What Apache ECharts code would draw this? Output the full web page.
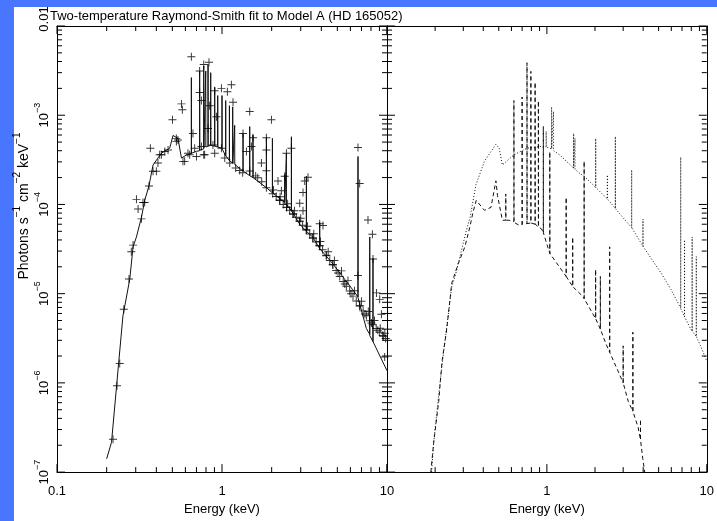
<!DOCTYPE html>
<html>
<head>
<meta charset="utf-8">
<script src="https://cdn.jsdelivr.net/npm/echarts@6/dist/echarts.min.js"></script>
<style>
  html, body { margin: 0; padding: 0; background: #4876ff; overflow: hidden; }
  #sheet { position: absolute; left: 14px; top: 7px; width: 703px; height: 514px; background: #ffffff; }
  #chart { position: absolute; left: 0; top: 0; width: 717px; height: 521px; }
</style>
</head>
<body>
<div id="sheet"></div>
<div id="chart"></div>
<script>
// Energy (keV) / flux (photons s^-1 cm^-2 keV^-1) pairs.

// Total two-temperature model (left panel, solid line)
const modelTotal = [
  [0.200,1.41e-7],[0.214,2.16e-7],[0.230,9.5e-7],[0.251,5.64e-6],[0.276,1.45e-5],[0.289,3.35e-5],
  [0.303,4.32e-5],[0.325,7.18e-5],[0.340,1.11e-4],[0.361,1.62e-4],[0.382,2.77e-4],[0.429,3.75e-4],
  [0.482,4.27e-4],[0.505,5.93e-4],[0.541,5.5e-4],[0.568,3.31e-4],[0.607,3.57e-4],
  [0.652,3.7e-4],[0.652,2.64e-3],[0.653,3.75e-4],
  [0.700,3.94e-4],
  [0.732,4.0e-4],[0.732,3.13e-3],[0.733,4.05e-4],
  [0.775,4.2e-4],[0.775,3.55e-3],[0.776,4.3e-4],
  [0.797,4.4e-4],[0.797,3.13e-3],[0.798,4.4e-4],
  [0.823,4.5e-4],[0.823,3.71e-3],[0.824,4.5e-4],
  [0.854,4.6e-4],[0.854,3.0e-3],[0.855,4.6e-4],
  [0.903,4.5e-4],[0.903,2.05e-3],[0.904,4.5e-4],
  [0.942,4.4e-4],[0.942,1.66e-3],[0.943,4.4e-4],
  [1.000,4.27e-4],[1.000,1.66e-3],[1.001,4.2e-4],
  [1.053,3.5e-4],[1.053,1.46e-3],[1.054,3.5e-4],
  [1.109,3.1e-4],[1.109,1.28e-3],[1.110,3.1e-4],
  [1.161,2.9e-4],[1.161,1.24e-3],[1.162,2.9e-4],
  [1.194,2.8e-4],[1.194,7.7e-4],[1.195,2.8e-4],
  [1.341,2.37e-4],[1.341,6.25e-4],[1.342,2.37e-4],
  [1.472,2.1e-4],[1.472,7.46e-4],[1.473,2.1e-4],
  [1.541,2.0e-4],[1.541,5.98e-4],[1.542,2.0e-4],
  [1.858,1.54e-4],[1.858,5.6e-4],[1.859,1.54e-4],
  [2.021,1.35e-4],[2.021,5.5e-4],[2.022,1.35e-4],
  [2.399,1.05e-4],[2.399,2.16e-4],[2.400,1.05e-4],
  [2.457,1.0e-4],[2.457,3.75e-4],[2.458,1.0e-4],
  [2.634,8.5e-5],[2.634,5.74e-4],[2.635,8.5e-5],
  [2.958,6.0e-5],
  [3.247,5.0e-5],[3.247,2.07e-4],[3.248,5.0e-5],
  [3.55,4.3e-5],
  [3.909,3.2e-5],[3.909,6.32e-5],[3.910,3.2e-5],
  [4.69,2.17e-5],
  [6.17,1.12e-5],
  [6.671,9.2e-6],[6.671,3.45e-4],[6.672,9.0e-6],
  [7.50,4.06e-6],
  [7.86,3.5e-6],[7.86,4.32e-5],[7.861,3.4e-6],
  [8.225,2.9e-6],[8.225,2.49e-5],[8.226,2.9e-6],
  [10.0,1.37e-6]
];

// Observed spectrum (left panel, crosses)
const observed = [
  [0.2185,2.34e-7],[0.231,9.3e-7],[0.240,1.65e-6],[0.254,6.69e-6],[0.273,1.46e-5],[0.282,2.95e-5],
  [0.289,3.5e-5],[0.303,1.14e-4],[0.310,8.87e-5],[0.325,6.89e-5],[0.332,1.05e-4],[0.340,1.05e-4],
  [0.361,1.61e-4],[0.368,4.27e-4],[0.382,2.36e-4],[0.400,2.36e-4],[0.409,2.91e-4],[0.419,3.6e-4],
  [0.429,3.6e-4],[0.450,3.92e-4],[0.471,4.08e-4],[0.501,8.92e-4],[0.529,5.5e-4],[0.529,5.06e-4],
  [0.541,5.27e-4],[0.568,1.34e-3],[0.575,1.15e-3],[0.580,3.04e-4],[0.594,3.04e-4],[0.622,3.75e-4],
  [0.637,3.6e-4],[0.652,4.51e-3],[0.667,6.25e-4],[0.683,4.27e-4],[0.700,3.45e-4],[0.732,3.13e-3],
  [0.732,1.80e-3],[0.750,1.46e-3],[0.750,4.45e-4],[0.775,3.71e-3],[0.775,3.6e-4],[0.785,3.6e-4],
  [0.823,7.1e-4],[0.834,3.93e-3],[0.842,1.28e-3],[0.881,4.64e-4],[0.903,1.88e-3],[0.903,3.75e-4],
  [0.925,9.6e-4],[0.992,2.0e-3],[0.992,4.27e-4],[1.039,3.31e-4],[1.078,1.83e-3],[1.114,2.91e-4],
  [1.140,2.19e-3],[1.166,1.40e-3],[1.21,2.56e-4],[1.28,2.4e-4],[1.335,2.26e-4],[1.341,6.25e-4],
  [1.406,3.92e-4],[1.472,1.10e-3],[1.472,2.37e-4],[1.508,4.45e-4],[1.541,5.6e-4],[1.60,2.09e-4],
  [1.646,1.99e-4],[1.733,2.91e-4],[1.74,1.80e-4],[1.858,5.6e-4],[1.858,4.08e-4],[1.858,2.39e-4],
  [1.858,1.54e-4],[1.993,8.92e-4],[2.03,1.32e-4],[2.13,1.23e-4],[2.185,1.83e-4],[2.238,1.11e-4],
  [2.291,1.42e-4],[2.35,1.0e-4],[2.399,2.07e-4],[2.457,3.75e-4],[2.467,9.27e-5],[2.57,8.59e-5],
  [2.634,4.27e-4],[2.692,7.8e-5],[2.82,7.19e-5],[2.958,1.03e-4],[2.958,6.49e-5],[3.08,5.86e-5],
  [3.097,1.36e-4],[3.097,8.5e-5],[3.171,1.83e-4],[3.247,5.16e-5],[3.320,2.02e-4],[3.40,4.66e-5],
  [3.55,4.21e-5],[3.72,3.8e-5],[3.909,6.06e-5],[3.909,3.44e-5],[4.07,3.1e-5],[4.094,5.82e-5],
  [4.29,2.66e-5],[4.50,2.35e-5],[4.69,2.12e-5],[4.92,1.82e-5],[5.17,1.56e-5],[5.43,1.37e-5],
  [5.67,1.21e-5],[5.94,1.07e-5],[6.22,9.38e-6],[6.51,8.26e-6],[6.671,4.34e-4],[6.671,1.60e-5],
  [6.83,1.72e-4],[6.83,7.28e-6],[7.17,6.41e-6],[7.50,5.64e-6],[7.67,6.71e-5],[7.86,4.97e-6],
  [8.155,4.63e-5],[8.19,4.49e-6],[8.225,2.45e-5],[8.60,4.06e-6],[8.63,1.02e-5],[9.03,8.63e-6],
  [9.03,3.69e-6],[9.25,5.89e-6],[9.42,3.39e-6],[9.68,1.95e-6],[9.82,3.14e-6],
  // dense high-energy band, upper edge
  [2.05,1.45e-4],[2.25,1.22e-4],[2.50,1.02e-4],[2.75,8.5e-5],[3.00,7.0e-5],[3.30,5.7e-5],
  [3.60,4.7e-5],[3.95,3.85e-5],[4.40,2.95e-5],[4.80,2.35e-5],[5.30,1.8e-5],[5.80,1.4e-5],
  [6.35,1.08e-5],[7.00,8.2e-6],[7.70,6.3e-6],[8.40,5.0e-6],[9.10,4.1e-6],[9.70,3.6e-6],
  // dense high-energy band, centre
  [2.24,1.12e-4],[2.46,9.3e-5],[2.70,7.8e-5],[2.95,6.5e-5],[3.24,5.2e-5],[3.56,4.2e-5],
  [3.90,3.45e-5],[4.28,2.7e-5],[4.70,2.1e-5],[5.05,1.7e-5],[5.55,1.28e-5],[6.05,1.0e-5],
  [6.84,7.3e-6],[7.35,5.9e-6],[8.05,4.7e-6],[8.80,3.9e-6],[9.50,3.3e-6]
];

// Hot component (right panel, dotted line)
const hotComponent = [
  [0.190,1.0e-7],[0.196,2.17e-7],[0.2106,7.37e-7],[0.2259,2.2e-6],[0.2425,6.1e-6],[0.2541,1.21e-5],
  [0.2666,1.56e-5],[0.286,2.6e-5],[0.314,5.16e-5],[0.331,7.18e-5],[0.360,1.66e-4],[0.407,3.06e-4],
  [0.480,4.72e-4],[0.503,4.27e-4],[0.527,2.77e-4],[0.622,3.6e-4],[0.751,4.27e-4],[0.950,4.49e-4],
  [0.990,4.4e-4],[0.990,6.6e-4],[0.991,4.4e-4],
  [1.070,4.2e-4],[1.070,1.24e-3],[1.071,4.2e-4],
  [1.100,4.0e-4],[1.100,1.1e-3],[1.101,4.0e-4],
  [1.202,3.6e-4],
  [1.470,2.55e-4],[1.470,6.25e-4],[1.471,2.55e-4],
  [1.500,2.45e-4],[1.500,5.5e-4],[1.501,2.45e-4],
  [1.752,1.99e-4],
  [2.020,1.55e-4],[2.020,5.5e-4],[2.021,1.55e-4],
  [2.115,1.43e-4],
  [2.390,1.15e-4],[2.390,2.14e-4],[2.391,1.15e-4],
  [2.556,1.0e-4],
  [2.680,9.0e-5],[2.680,5.78e-4],[2.681,9.0e-5],
  [3.23,6.05e-5],
  [3.390,5.5e-5],[3.390,2.44e-4],[3.391,5.5e-5],
  [3.990,3.4e-5],[3.990,6.83e-5],[3.991,3.4e-5],
  [4.28,2.82e-5],[5.18,1.70e-5],[5.96,1.12e-5],
  [6.870,6.9e-6],[6.870,3.39e-4],[6.871,6.8e-6],
  [7.260,5.5e-6],[7.260,4.0e-5],[7.261,5.5e-6],
  [7.91,4.06e-6],
  [8.100,3.8e-6],[8.100,4.3e-5],[8.101,3.8e-6],
  [8.600,3.3e-6],[8.600,2.6e-5],[8.601,3.3e-6],
  [9.12,2.63e-6],[10.0,1.75e-6]
];

// Cool component (right panel, dashed line)
const coolComponent = [
  [0.188,1.0e-7],[0.196,2.17e-7],[0.2106,6.17e-7],[0.2206,1.71e-6],[0.2367,4.06e-6],[0.254,1.31e-5],
  [0.279,2.17e-5],[0.307,3.35e-5],[0.3296,5.57e-5],[0.345,8.17e-5],[0.3616,1.11e-4],[0.407,8.59e-5],
  [0.447,9.27e-5],[0.480,1.84e-4],[0.491,1.26e-4],[0.527,6.65e-5],
  [0.553,6.65e-5],[0.553,1.31e-4],[0.554,6.65e-5],
  [0.580,6.65e-5],
  [0.622,6.4e-5],[0.622,1.46e-3],[0.623,6.3e-5],
  [0.668,5.86e-5],
  [0.700,6.0e-5],[0.700,1.6e-3],[0.701,6.0e-5],
  [0.751,6.1e-5],[0.751,3.87e-3],[0.752,6.1e-5],
  [0.794,6.2e-5],[0.794,3.1e-3],[0.795,6.2e-5],
  [0.805,6.32e-5],
  [0.844,6.0e-5],[0.844,2.34e-3],[0.845,6.0e-5],
  [0.885,5.6e-5],[0.885,1.45e-3],[0.886,5.6e-5],
  [0.927,5.3e-5],
  [0.950,4.8e-5],[0.950,7.46e-4],[0.951,4.8e-5],
  [1.043,2.82e-5],[1.043,3.9e-4],[1.044,2.82e-5],
  [1.320,1.56e-5],[1.320,1.2e-4],[1.321,1.56e-5],
  [1.450,1.2e-5],[1.450,4.3e-5],[1.451,1.2e-5],
  [1.670,9.38e-6],
  [1.710,8.8e-6],[1.710,3.06e-4],[1.711,8.8e-6],
  [2.018,5.24e-6],[2.018,1.87e-5],[2.019,5.24e-6],
  [2.160,4.0e-6],[2.160,1.56e-5],[2.161,4.0e-6],
  [2.323,2.84e-6],
  [2.470,2.2e-6],[2.470,3.35e-5],[2.471,2.2e-6],
  [2.805,1.32e-6],
  [3.000,1.0e-6],[3.000,2.6e-6],[3.001,1.0e-6],
  [3.23,6.17e-7],
  [3.450,4.8e-7],[3.450,3.7e-6],[3.451,4.8e-7],
  [3.72,3.18e-7],
  [3.850,2.3e-7],[3.850,3.9e-7],[3.851,2.3e-7],
  [3.98,1.41e-7],[4.09,1.0e-7]
];

// Axis ranges and tick labels
const energyRange = [0.1, 10];
const fluxRange = [1e-7, 1e-2];
const energyTickLabels = ['0.1', '1', '10'];
const fluxTickLabels = ['10|−7', '10|−6', '10|−5', '10|−4', '10|−3', '0.01'];
const yAxisTitle = ['Photons s', '−1', ' cm', '−2', ' keV', '−1'];

const FONT = 'Liberation Sans';
const INK = '#000000';

const chart = echarts.init(document.getElementById('chart'), null, { renderer: 'canvas' });

const gridBoxes = [
  { left: 57, top: 26, width: 330, height: 452 },
  { left: 387, top: 26, width: 326, height: 452 }
];

const richText = {
  t: { fontSize: 13, fontFamily: FONT, color: INK, lineHeight: 18, verticalAlign: 'bottom' },
  s: { fontSize: 9, fontFamily: FONT, color: INK, lineHeight: 10, verticalAlign: 'top' },
  // the topmost decade label sits a little above its tick
  up: { fontSize: 13, fontFamily: FONT, color: INK, lineHeight: 18, verticalAlign: 'bottom', padding: [0, 0, 0, 14] }
};
const richTitle = {
  t: { fontSize: 14, fontFamily: FONT, color: INK, lineHeight: 19, verticalAlign: 'bottom' },
  s: { fontSize: 10, fontFamily: FONT, color: INK, lineHeight: 10, verticalAlign: 'top' }
};

function decadeIndex(v, lo) {
  return Math.round(Math.log10(v / lo));
}

// Decade and sub-decade tick values for a log range
function logTicks(range) {
  const out = [];
  const d0 = Math.round(Math.log10(range[0]));
  const d1 = Math.round(Math.log10(range[1]));
  for (let d = d0; d <= d1; d++) {
    for (let m = 1; m <= 9; m++) {
      const v = m * Math.pow(10, d);
      if (v > range[1] * 1.0001) break;
      out.push({ v, major: m === 1 });
    }
  }
  return out;
}

const MAJOR_LEN = 8;
const MINOR_LEN = 5;

// Frame ticks on all four sides of a panel, pointing inward
function renderFrameTicks(params, api) {
  const bl = api.coord([energyRange[0], fluxRange[0]]);
  const tr = api.coord([energyRange[1], fluxRange[1]]);
  const children = [];
  const seg = (x1, y1, x2, y2) => children.push({
    type: 'line', shape: { x1, y1, x2, y2 },
    style: { stroke: INK, lineWidth: 1 }
  });
  logTicks(energyRange).forEach(t => {
    const x = api.coord([t.v, fluxRange[0]])[0];
    const len = t.major ? MAJOR_LEN : MINOR_LEN;
    seg(x, bl[1], x, bl[1] - len);
    seg(x, tr[1], x, tr[1] + len);
  });
  logTicks(fluxRange).forEach(t => {
    const y = api.coord([energyRange[0], t.v])[1];
    const len = t.major ? MAJOR_LEN : MINOR_LEN;
    seg(bl[0], y, bl[0] + len, y);
    seg(tr[0], y, tr[0] - len, y);
  });
  return { type: 'group', children };
}

function energyAxis(gridIndex, position, withLabels, showMin) {
  return {
    type: 'log', logBase: 10, gridIndex, position,
    min: energyRange[0], max: energyRange[1],
    name: withLabels ? 'Energy (keV)' : '',
    nameLocation: 'middle', nameGap: 30,
    nameTextStyle: { color: INK, fontFamily: FONT, fontSize: 13 },
    axisLine: { show: true, onZero: false, lineStyle: { color: INK, width: 1 } },
    axisTick: { show: false },
    minorTick: { show: false },
    splitLine: { show: false },
    axisLabel: {
      show: withLabels, showMinLabel: showMin, margin: 13,
      color: INK, fontFamily: FONT, fontSize: 13,
      formatter: v => energyTickLabels[decadeIndex(v, energyRange[0])]
    }
  };
}

function fluxAxis(gridIndex, position, withLabels) {
  return {
    type: 'log', logBase: 10, gridIndex, position,
    min: fluxRange[0], max: fluxRange[1],
    axisLine: { show: true, onZero: false, lineStyle: { color: INK, width: 1 } },
    axisTick: { show: false },
    minorTick: { show: false },
    splitLine: { show: false },
    axisLabel: {
      show: withLabels, rotate: 90, margin: 6,
      color: INK, fontFamily: FONT, fontSize: 13,
      formatter: v => {
        const parts = fluxTickLabels[decadeIndex(v, fluxRange[0])].split('|');
        return parts.length > 1 ? '{t|' + parts[0] + '}{s|' + parts[1] + '}' : '{up|' + parts[0] + '}';
      },
      rich: richText
    }
  };
}

const plusSymbol = 'path://M0,4.4H10V5.6H0ZM4.4,0H5.6V10H4.4Z';

const yTitleRich = yAxisTitle.map((s, i) => (i % 2 === 0 ? '{t|' : '{s|') + s + '}').join('');

chart.setOption({
  animation: false,
  backgroundColor: 'transparent',
  title: {
    text: 'Two-temperature Raymond-Smith fit to Model A (HD 165052)',
    left: 45, top: 5,
    textStyle: { color: INK, fontFamily: FONT, fontSize: 13, fontWeight: 'normal' }
  },
  graphic: [{
    type: 'text', x: 22, y: 206, rotation: Math.PI / 2,
    style: { text: yTitleRich, rich: richTitle, align: 'center', verticalAlign: 'middle' }
  }],
  grid: gridBoxes.map(g => Object.assign({ containLabel: false }, g)),
  xAxis: [
    energyAxis(0, 'bottom', true, true),
    energyAxis(0, 'top', false, true),
    energyAxis(1, 'bottom', true, false),
    energyAxis(1, 'top', false, true)
  ],
  yAxis: [
    fluxAxis(0, 'left', true),
    fluxAxis(0, 'right', false),
    fluxAxis(1, 'left', false),
    fluxAxis(1, 'right', false)
  ],
  series: [
    {
      name: 'Frame ticks A', type: 'custom', xAxisIndex: 0, yAxisIndex: 0,
      data: [[1, 1e-4]], renderItem: renderFrameTicks, clip: false, silent: true, z: 1
    },
    {
      name: 'Frame ticks B', type: 'custom', xAxisIndex: 2, yAxisIndex: 2,
      data: [[1, 1e-4]], renderItem: renderFrameTicks, clip: false, silent: true, z: 1
    },
    {
      name: 'Model', type: 'line', xAxisIndex: 0, yAxisIndex: 0,
      data: modelTotal, showSymbol: false, symbol: 'none',
      lineStyle: { color: '#111', width: 1 }, z: 3
    },
    {
      name: 'Observed', type: 'scatter', xAxisIndex: 0, yAxisIndex: 0,
      data: observed, symbol: plusSymbol, symbolSize: 8,
      itemStyle: { color: INK }, z: 4
    },
    {
      name: 'Hot component', type: 'line', xAxisIndex: 2, yAxisIndex: 2,
      data: hotComponent, showSymbol: false, symbol: 'none',
      lineStyle: { color: '#111', width: 1, type: [1, 2] }, z: 3
    },
    {
      name: 'Cool component', type: 'line', xAxisIndex: 2, yAxisIndex: 2,
      data: coolComponent, showSymbol: false, symbol: 'none',
      lineStyle: { color: '#111', width: 1, type: [4, 3] }, z: 3
    }
  ]
});
</script>
</body>
</html>
